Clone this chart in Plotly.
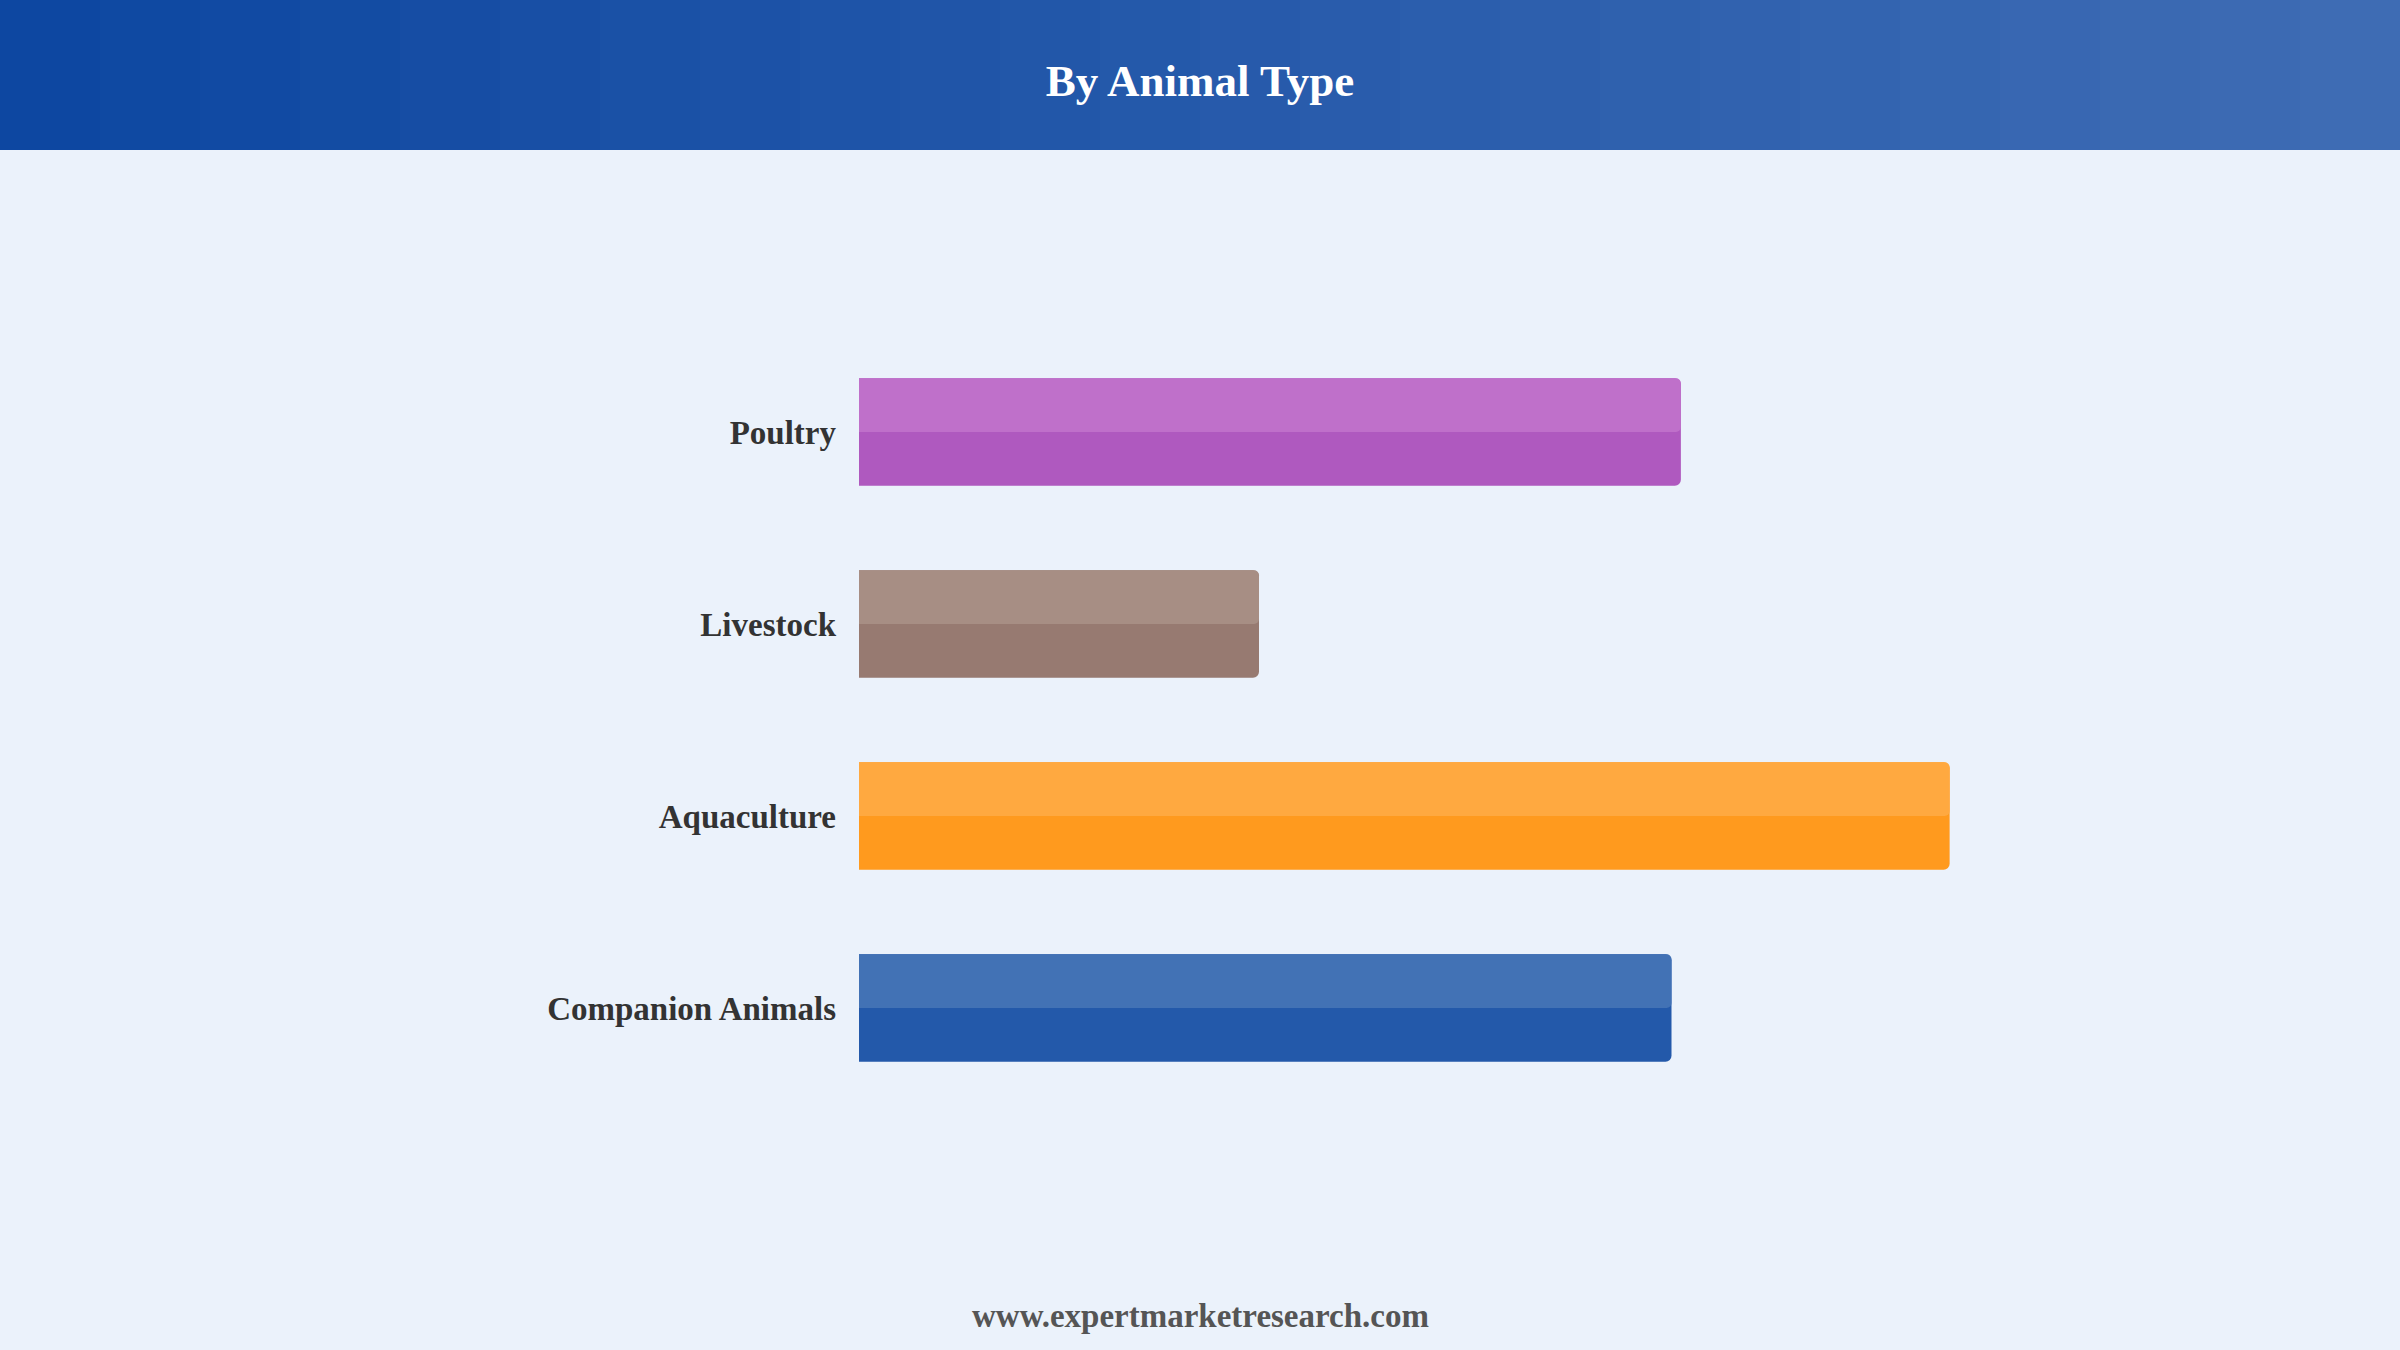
import plotly.graph_objects as go

# data, top to bottom as shown
categories = ["Poultry", "Livestock", "Aquaculture", "Companion Animals"]
values = [26.3, 12.8, 34.9, 26.0]
base_colors = ["#AF59BF", "#977A71", "#FF9A1E", "#2359AA"]
light_colors = ["#BF70CA", "#A78E84", "#FFA940", "#4272B5"]

W, H = 2400, 1350
ml, mr, mt, mb = 859, 291, 336, 246
pw = W - ml - mr
ph = H - mt - mb

fig = go.Figure()

# main bars
fig.add_trace(go.Bar(
    y=categories, x=values, orientation="h",
    width=0.56, offset=-0.28,
    marker=dict(color=base_colors, line=dict(width=0), cornerradius=6),
    hoverinfo="skip", showlegend=False,
))
# lighter upper half
fig.add_trace(go.Bar(
    y=categories, x=values, orientation="h",
    width=0.28, offset=-0.28,
    marker=dict(color=light_colors, line=dict(width=0), cornerradius=5),
    hoverinfo="skip", showlegend=False,
))

# header band with a stepped blue gradient
left = (13, 71, 161)
right = (62, 108, 180)
steps = 24
x_left = -ml / pw
x_right = (W - ml) / pw
y_top = 1 + mt / ph
y_bot = 1 + (mt - 150) / ph
for i in range(steps):
    t = i / (steps - 1)
    c = tuple(round(left[k] + (right[k] - left[k]) * t) for k in range(3))
    fig.add_shape(
        type="rect", xref="paper", yref="paper", layer="below",
        x0=x_left + (x_right - x_left) * i / steps,
        x1=x_left + (x_right - x_left) * (i + 1) / steps + 0.002,
        y0=y_bot, y1=y_top,
        fillcolor="rgb(%d,%d,%d)" % c, line=dict(width=0),
    )

fig.add_annotation(
    text="<b>www.expertmarketresearch.com</b>",
    xref="paper", yref="paper",
    x=(W / 2 - ml) / pw, y=(mt + ph - 1316) / ph,
    showarrow=False, xanchor="center", yanchor="middle",
    font=dict(family="Liberation Serif", size=33, color="#555555"),
)

fig.update_layout(
    width=W, height=H,
    margin=dict(l=ml, r=mr, t=mt, b=mb),
    paper_bgcolor="#EBF2FB", plot_bgcolor="#EBF2FB",
    barmode="overlay",
    title=dict(
        text="<b>By Animal Type</b>",
        x=0.5, xref="container", xanchor="center",
        y=1 - 80 / H, yref="container", yanchor="middle",
        font=dict(family="Liberation Serif", size=45, color="white"),
    ),
    xaxis=dict(range=[0, 40], visible=False, fixedrange=True),
    yaxis=dict(
        autorange="reversed", showgrid=False, zeroline=False, showline=False,
        fixedrange=True, ticks="", ticklabelstandoff=22,
        tickfont=dict(family="Liberation Serif", size=33, color="#333333", weight="bold"),
    ),
)

# page has a default body margin, drop it so the figure fills the window
fig.write_html("out.html", config={"displayModeBar": False},
               post_script="document.body.style.margin='0';")
